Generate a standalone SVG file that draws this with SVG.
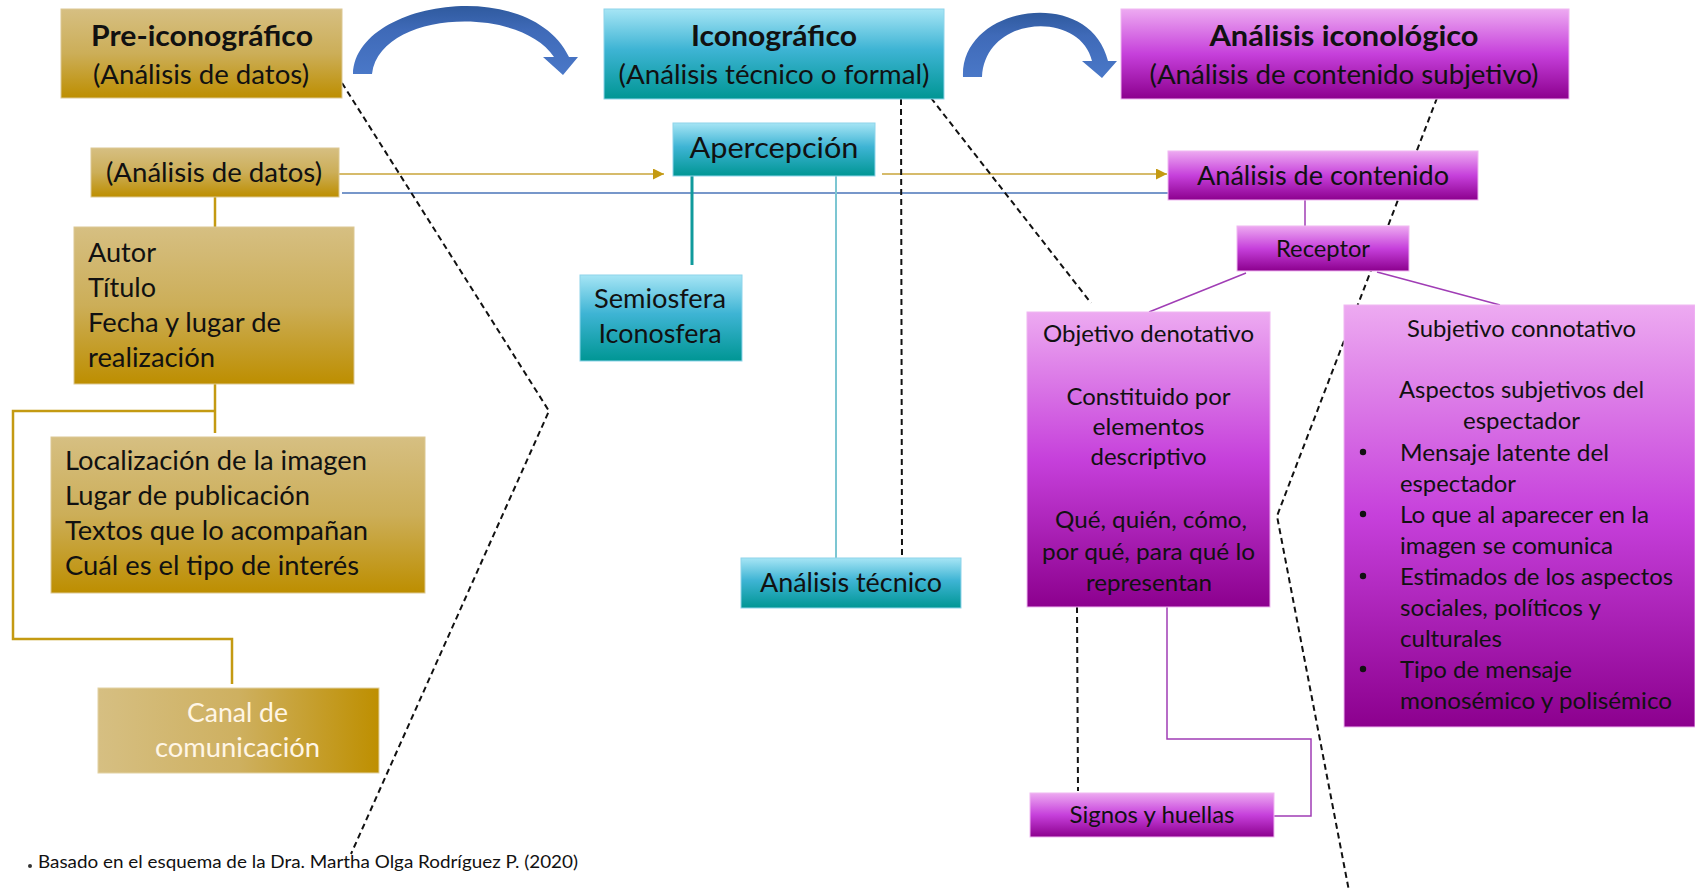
<svg xmlns="http://www.w3.org/2000/svg" width="1695" height="891" viewBox="0 0 1695 891">
<defs>
<linearGradient id="gGold" x1="0" y1="0" x2="0" y2="1"><stop offset="0" stop-color="#D6BF82"/><stop offset="0.5" stop-color="#CCAE58"/><stop offset="1" stop-color="#BD8E00"/></linearGradient>
<linearGradient id="gGoldH" x1="0" y1="0" x2="1" y2="0"><stop offset="0" stop-color="#D6BF82"/><stop offset="0.5" stop-color="#CEB060"/><stop offset="1" stop-color="#BE8F00"/></linearGradient>
<linearGradient id="gTeal" x1="0" y1="0" x2="0" y2="1"><stop offset="0" stop-color="#A6E5F5"/><stop offset="0.45" stop-color="#3EB4D4"/><stop offset="1" stop-color="#009694"/></linearGradient>
<linearGradient id="gPurp" x1="0" y1="0" x2="0" y2="1"><stop offset="0" stop-color="#EDAAF1"/><stop offset="0.5" stop-color="#C640DB"/><stop offset="1" stop-color="#8C008E"/></linearGradient>
<linearGradient id="gBlue" x1="0" y1="0" x2="0" y2="1"><stop offset="0" stop-color="#2F5A9E"/><stop offset="0.35" stop-color="#3F6AB8"/><stop offset="1" stop-color="#4A78C8"/></linearGradient>
<marker id="mGold" viewBox="0 0 10 10" refX="10" refY="5" markerWidth="11" markerHeight="11" markerUnits="userSpaceOnUse" orient="auto"><path d="M0,0 L10,5 L0,10 Z" fill="#C49A12"/></marker>
</defs>
<style>
.t{font-family:Lato,"Liberation Sans",sans-serif;fill:#111;}
.b{font-weight:700;}
.w{fill:#FFF6E6;}
.gold{fill:url(#gGold);stroke:#DCC893;stroke-width:1;}
.teal{fill:url(#gTeal);stroke:#8ED4EA;stroke-width:1;}
.purp{fill:url(#gPurp);stroke:#F0B8F2;stroke-width:1;}
.cg{fill:none;stroke:#C49A12;stroke-width:2.5;}
.cgt{fill:none;stroke:#C9A43A;stroke-width:1.6;}
.cb{fill:none;stroke:#4A74B8;stroke-width:1.5;}
.ct{fill:none;stroke:#109A9C;stroke-width:3;}
.ctl{fill:none;stroke:#7CC6D2;stroke-width:2;}
.cp{fill:none;stroke:#A03DB5;stroke-width:1.5;}
.cd{fill:none;stroke:#111;stroke-width:2;stroke-dasharray:6 4;}
</style>

<g id="arrows">
<path d="M353,74 C355,0 530,-25 569,57 L578,57 L563,75 L543,57 L554,57 C520,5 380,10 372,74 Z" fill="url(#gBlue)"/>
<path d="M963,77 C960,5 1090,-15 1108,61 L1117,61 L1102,78 L1082,61 L1092,61 C1080,10 985,15 982,77 Z" fill="url(#gBlue)"/>
</g>

<g id="connectors">
<line class="cgt" x1="339" y1="174" x2="664" y2="174" marker-end="url(#mGold)"/>
<line class="cgt" x1="882" y1="174" x2="1167" y2="174" marker-end="url(#mGold)"/>
<line class="cb" x1="342" y1="193" x2="1168" y2="193"/>
<line class="cg" x1="215" y1="197" x2="215" y2="227"/>
<line class="cg" x1="215" y1="384" x2="215" y2="433"/>
<polyline class="cg" points="215,411 13,411 13,639 232,639 232,684"/>
<line class="ct" x1="692" y1="176" x2="692" y2="265"/>
<line class="ctl" x1="836" y1="176" x2="836" y2="558"/>
<line class="cp" x1="1305" y1="200" x2="1305" y2="226"/>
<line class="cp" x1="1246" y1="273" x2="1149" y2="312"/>
<line class="cp" x1="1377" y1="272" x2="1500" y2="305"/>
<polyline class="cp" points="1167,607 1167,739 1311,739 1311,816 1274,816"/>
<line class="cd" x1="901" y1="99" x2="902" y2="557"/>
<line class="cd" x1="931" y1="98" x2="1091" y2="303"/>
<polyline class="cd" points="342,83 549,411 351,854"/>
<polyline class="cd" points="1437,98 1277,516 1349,891"/>
<line class="cd" x1="1077" y1="607" x2="1078" y2="791"/>
</g>

<g id="n-pre">
<rect class="gold" x="61" y="9" width="281" height="89"/>
<text class="t b" x="202" y="46" font-size="28" text-anchor="middle" textLength="222" lengthAdjust="spacingAndGlyphs">Pre-iconográfico</text>
<text class="t" x="201" y="84" font-size="26.5" text-anchor="middle" textLength="216" lengthAdjust="spacingAndGlyphs">(Análisis de datos)</text>
</g>

<g id="n-ico">
<rect class="teal" x="604" y="9" width="340" height="90"/>
<text class="t b" x="774" y="46" font-size="28" text-anchor="middle" textLength="166" lengthAdjust="spacingAndGlyphs">Iconográfico</text>
<text class="t" x="774" y="84" font-size="26.5" text-anchor="middle" textLength="311" lengthAdjust="spacingAndGlyphs">(Análisis técnico o formal)</text>
</g>

<g id="n-iconol">
<rect class="purp" x="1121" y="9" width="448" height="90"/>
<text class="t b" x="1344" y="46" font-size="28" text-anchor="middle" textLength="269" lengthAdjust="spacingAndGlyphs">Análisis iconológico</text>
<text class="t" x="1344" y="84" font-size="26.5" text-anchor="middle" textLength="389" lengthAdjust="spacingAndGlyphs">(Análisis de contenido subjetivo)</text>
</g>

<g id="n-datos">
<rect class="gold" x="91" y="148" width="248" height="49"/>
<text class="t" x="214" y="182" font-size="26.5" text-anchor="middle" textLength="216" lengthAdjust="spacingAndGlyphs">(Análisis de datos)</text>
</g>

<g id="n-aperc">
<rect class="teal" x="673" y="123" width="202" height="53"/>
<text class="t" x="774" y="158" font-size="29" text-anchor="middle" textLength="169" lengthAdjust="spacingAndGlyphs">Apercepción</text>
</g>

<g id="n-contenido">
<rect class="purp" x="1168" y="151" width="310" height="49"/>
<text class="t" x="1323" y="185" font-size="26.5" text-anchor="middle" textLength="252" lengthAdjust="spacingAndGlyphs">Análisis de contenido</text>
</g>

<g id="n-autor">
<rect class="gold" x="74" y="227" width="280" height="157"/>
<text class="t" x="88" y="262" font-size="26.5" textLength="68" lengthAdjust="spacingAndGlyphs">Autor</text>
<text class="t" x="88" y="297" font-size="26.5" textLength="68" lengthAdjust="spacingAndGlyphs">Título</text>
<text class="t" x="88" y="332" font-size="26.5" textLength="193" lengthAdjust="spacingAndGlyphs">Fecha y lugar de</text>
<text class="t" x="88" y="367" font-size="26.5" textLength="127" lengthAdjust="spacingAndGlyphs">realización</text>
</g>

<g id="n-local">
<rect class="gold" x="51" y="437" width="374" height="156"/>
<text class="t" x="65" y="470" font-size="26.5" textLength="302" lengthAdjust="spacingAndGlyphs">Localización de la imagen</text>
<text class="t" x="65" y="505" font-size="26.5" textLength="245" lengthAdjust="spacingAndGlyphs">Lugar de publicación</text>
<text class="t" x="65" y="540" font-size="26.5" textLength="303" lengthAdjust="spacingAndGlyphs">Textos que lo acompañan</text>
<text class="t" x="65" y="575" font-size="26.5" textLength="294" lengthAdjust="spacingAndGlyphs">Cuál es el tipo de interés</text>
</g>

<g id="n-canal">
<rect x="98" y="688" width="281" height="85" fill="url(#gGoldH)" stroke="#E2D2A4" stroke-width="1"/>
<text class="t w" x="237.5" y="722" font-size="26.5" text-anchor="middle" textLength="101" lengthAdjust="spacingAndGlyphs">Canal de</text>
<text class="t w" x="237.5" y="757" font-size="26.5" text-anchor="middle" textLength="165" lengthAdjust="spacingAndGlyphs">comunicación</text>
</g>

<g id="n-semio">
<rect class="teal" x="580" y="275" width="162" height="86"/>
<text class="t" x="660" y="308" font-size="26.5" text-anchor="middle" textLength="132" lengthAdjust="spacingAndGlyphs">Semiosfera</text>
<text class="t" x="660" y="343" font-size="26.5" text-anchor="middle" textLength="123" lengthAdjust="spacingAndGlyphs">Iconosfera</text>
</g>

<g id="n-tecnico">
<rect class="teal" x="741" y="558" width="220" height="50"/>
<text class="t" x="851" y="592" font-size="26.5" text-anchor="middle" textLength="182" lengthAdjust="spacingAndGlyphs">Análisis técnico</text>
</g>

<g id="n-receptor">
<rect class="purp" x="1237" y="226" width="172" height="45"/>
<text class="t" x="1323" y="257" font-size="22.5" text-anchor="middle" textLength="94" lengthAdjust="spacingAndGlyphs">Receptor</text>
</g>

<g id="n-objetivo">
<rect class="purp" x="1027" y="312" width="243" height="295"/>
<g font-size="24" text-anchor="middle">
<text class="t" x="1148.5" y="342" textLength="211" lengthAdjust="spacingAndGlyphs">Objetivo denotativo</text>
<text class="t" x="1148.5" y="405" textLength="164" lengthAdjust="spacingAndGlyphs">Constituido por</text>
<text class="t" x="1148.5" y="435" textLength="112" lengthAdjust="spacingAndGlyphs">elementos</text>
<text class="t" x="1148.5" y="465" textLength="116" lengthAdjust="spacingAndGlyphs">descriptivo</text>
<text class="t" x="1151" y="528" textLength="192" lengthAdjust="spacingAndGlyphs">Qué, quién, cómo,</text>
<text class="t" x="1148.5" y="560" textLength="213" lengthAdjust="spacingAndGlyphs">por qué, para qué lo</text>
<text class="t" x="1149" y="591" textLength="126" lengthAdjust="spacingAndGlyphs">representan</text>
</g>
</g>

<g id="n-subjetivo">
<rect class="purp" x="1344" y="305" width="351" height="422"/>
<g font-size="24">
<text class="t" x="1521.5" y="337" text-anchor="middle" textLength="229" lengthAdjust="spacingAndGlyphs">Subjetivo connotativo</text>
<text class="t" x="1521.5" y="398" text-anchor="middle" textLength="245" lengthAdjust="spacingAndGlyphs">Aspectos subjetivos del</text>
<text class="t" x="1521.5" y="429" text-anchor="middle" textLength="117" lengthAdjust="spacingAndGlyphs">espectador</text>
<text class="t" x="1400" y="461" textLength="209" lengthAdjust="spacingAndGlyphs">Mensaje latente del</text>
<text class="t" x="1400" y="492" textLength="116" lengthAdjust="spacingAndGlyphs">espectador</text>
<text class="t" x="1400" y="523" textLength="249" lengthAdjust="spacingAndGlyphs">Lo que al aparecer en la</text>
<text class="t" x="1400" y="554" textLength="213" lengthAdjust="spacingAndGlyphs">imagen se comunica</text>
<text class="t" x="1400" y="585" textLength="273" lengthAdjust="spacingAndGlyphs">Estimados de los aspectos</text>
<text class="t" x="1400" y="616" textLength="201" lengthAdjust="spacingAndGlyphs">sociales, políticos y</text>
<text class="t" x="1400" y="647" textLength="102" lengthAdjust="spacingAndGlyphs">culturales</text>
<text class="t" x="1400" y="678" textLength="172" lengthAdjust="spacingAndGlyphs">Tipo de mensaje</text>
<text class="t" x="1400" y="709" textLength="272" lengthAdjust="spacingAndGlyphs">monosémico y polisémico</text>
</g>
<g fill="#111">
<circle cx="1363" cy="452" r="3.2"/>
<circle cx="1363" cy="514" r="3.2"/>
<circle cx="1363" cy="576" r="3.2"/>
<circle cx="1363" cy="669" r="3.2"/>
</g>
</g>

<g id="n-signos">
<rect class="purp" x="1030" y="793" width="244" height="44"/>
<text class="t" x="1152" y="823" font-size="23.5" text-anchor="middle" textLength="165" lengthAdjust="spacingAndGlyphs">Signos y huellas</text>
</g>

<g id="footnote">
<circle cx="30" cy="866" r="2" fill="#333"/>
<text class="t" x="38" y="868" font-size="17.5" textLength="540" lengthAdjust="spacingAndGlyphs">Basado en el esquema de la Dra. Martha Olga Rodríguez P. (2020)</text>
</g>
</svg>
